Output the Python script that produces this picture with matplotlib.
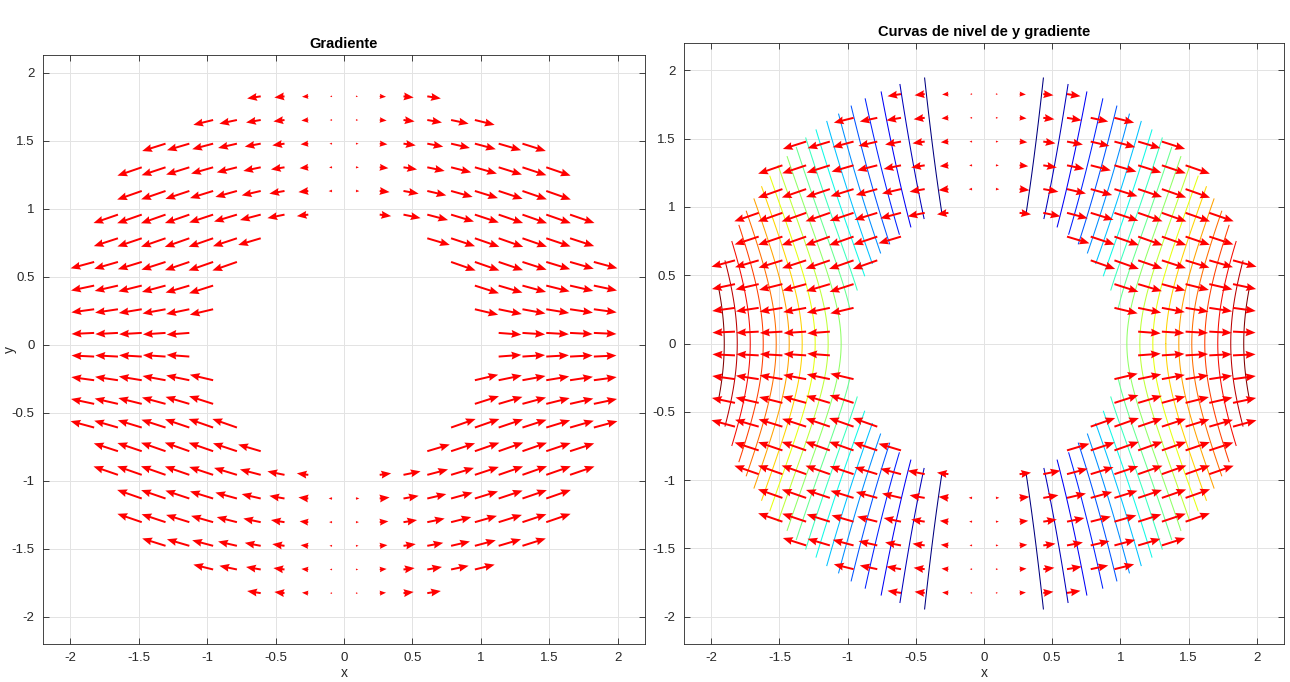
import numpy as np
import matplotlib
matplotlib.use('Agg')
import matplotlib.pyplot as plt

# ---- chart data -------------------------------------------------------------
# quiver grid (24 x 24 samples on [-2, 2]) and annulus limits
quiver_n = 24
grid_lo, grid_hi = -2.0, 2.0
r_in_quiver = 0.98
r_out_quiver = 1.98
r_in = 1.0
r_out = 2.0
# finer grid for the level curves
contour_n = 241
n_levels = 20
titles = ['Gradiente', 'Curvas de nivel de y gradiente']
tick_vals = [-2, -1.5, -1, -0.5, 0, 0.5, 1, 1.5, 2]
tick_labels = ['-2', '-1.5', '-1', '-0.5', '0', '0.5', '1', '1.5', '2']


def f(x, y):
    r = np.hypot(x, y)
    with np.errstate(divide='ignore', invalid='ignore'):
        return np.where(r > 0, x ** 2 / r, 0.0)


def grad_f(x, y):
    r = np.hypot(x, y)
    fx = x * (2 * r ** 2 - x ** 2) / r ** 3
    fy = -x ** 2 * y / r ** 3
    return fx, fy


# ---- figure -----------------------------------------------------------------
plt.rcParams['font.family'] = ['Liberation Sans', 'DejaVu Sans']
plt.rcParams['axes.unicode_minus'] = False

fig = plt.figure(figsize=(12.9, 6.82), dpi=100)
W, H = 1290.0, 682.0
ax1 = fig.add_axes([43 / W, 1 - 644 / H, 602 / W, 589 / H])
ax2 = fig.add_axes([684 / W, 1 - 644 / H, 600 / W, 601 / H])
ylims = [(-2.2, 2.13), (-2.2, 2.2)]

g = np.linspace(grid_lo, grid_hi, quiver_n)
X, Y = np.meshgrid(g, g)
R = np.hypot(X, Y)
mask = (R >= r_in_quiver) & (R <= r_out_quiver)
U, V = grad_f(X[mask], Y[mask])
step = (grid_hi - grid_lo) / (quiver_n - 1)

gf = np.linspace(grid_lo, grid_hi, contour_n)
XF, YF = np.meshgrid(gf, gf)
RF = np.hypot(XF, YF)
Z = np.ma.masked_where((RF < r_in) | (RF > r_out), f(XF, YF))
zmin, zmax = float(Z.min()), float(Z.max())
levels = np.linspace(zmin, zmax, n_levels + 2)[1:-1]

ax2.contour(XF, YF, Z, levels=levels, cmap='jet', vmin=levels[0],
            vmax=levels[-1], linewidths=0.75, zorder=2)

for ax, title, yl in zip([ax1, ax2], titles, ylims):
    ax.quiver(X[mask], Y[mask], U, V, color='#ff0000', angles='xy',
              scale_units='xy', scale=1 / (0.95 * step), width=0.0033,
              headwidth=4.0, headlength=5.0, headaxislength=4.5, zorder=3)
    ax.set_xlim(-2.2, 2.2)
    ax.set_ylim(*yl)
    ax.set_xticks(tick_vals)
    ax.set_xticklabels(tick_labels)
    ax.set_yticks(tick_vals)
    ax.set_yticklabels(tick_labels)
    ax.grid(True, color='#e3e3e3', linewidth=0.7)
    ax.set_axisbelow(True)
    ax.tick_params(direction='in', top=True, right=True, length=4,
                   width=0.6, labelsize=9.5, colors='#262626', pad=6)
    for s in ax.spines.values():
        s.set_color('#262626')
        s.set_linewidth(0.6)
    ax.set_title(title, fontsize=10.5, fontweight='bold', pad=5)
    ax.set_xlabel('x', fontsize=10, color='#262626', labelpad=1)

ax1.set_ylabel('y', fontsize=10, color='#262626')
ax1.yaxis.set_label_coords(-0.043, 0.5)

fig.savefig('out.png', dpi=100, facecolor='white')
